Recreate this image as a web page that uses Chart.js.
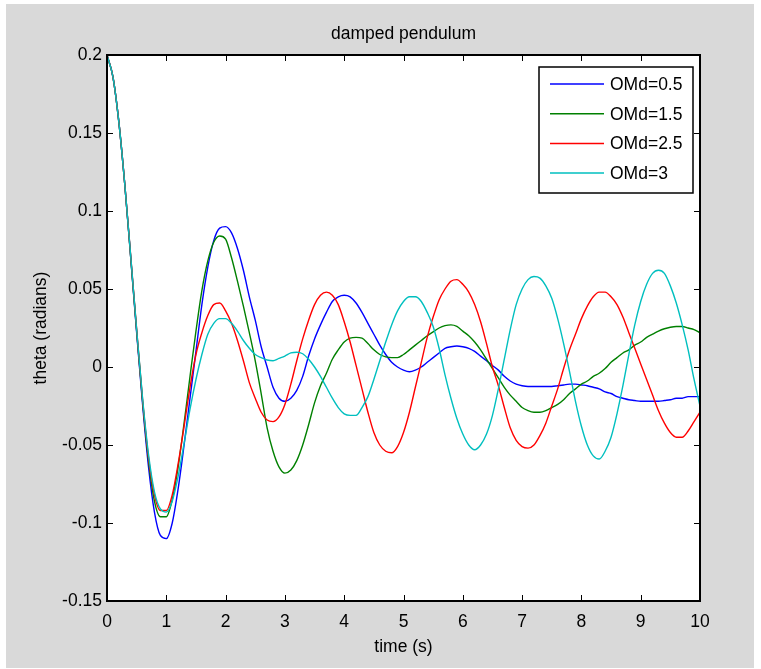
<!DOCTYPE html>
<html>
<head>
<meta charset="utf-8">
<title>damped pendulum</title>
<script src="https://cdn.jsdelivr.net/npm/chart.js@4.4.1/dist/chart.umd.min.js"></script>
<style>
  html, body { margin: 0; padding: 0; background: #fff; }
</style>
</head>
<body>
<canvas id="pendulum" width="761" height="669"></canvas>
<script>
// time axis (s)
const time = [
  0, 0.1, 0.2, 0.3, 0.4, 0.5, 0.6, 0.7, 0.8, 0.9, 1,
  1.1, 1.2, 1.3, 1.4, 1.5, 1.6, 1.7, 1.8, 1.9, 2,
  2.1, 2.2, 2.3, 2.4, 2.5, 2.6, 2.7, 2.8, 2.9, 3,
  3.1, 3.2, 3.3, 3.4, 3.5, 3.6, 3.7, 3.8, 3.9, 4,
  4.1, 4.2, 4.3, 4.4, 4.5, 4.6, 4.7, 4.8, 4.9, 5,
  5.1, 5.2, 5.3, 5.4, 5.5, 5.6, 5.7, 5.8, 5.9, 6,
  6.1, 6.2, 6.3, 6.4, 6.5, 6.6, 6.7, 6.8, 6.9, 7,
  7.1, 7.2, 7.3, 7.4, 7.5, 7.6, 7.7, 7.8, 7.9, 8,
  8.1, 8.2, 8.3, 8.4, 8.5, 8.6, 8.7, 8.8, 8.9, 9,
  9.1, 9.2, 9.3, 9.4, 9.5, 9.6, 9.7, 9.8, 9.9, 10
];

// theta (radians)
const omd05 = [
  0.2, 0.186, 0.157, 0.117, 0.070, 0.022, -0.024, -0.064, -0.093, -0.108, -0.110,
  -0.100, -0.078, -0.050, -0.020, 0.010, 0.040, 0.064, 0.081, 0.089, 0.090,
  0.086, 0.076, 0.062, 0.045, 0.030, 0.013, 0.000, -0.013, -0.020, -0.022,
  -0.020, -0.015, -0.006, 0.007, 0.018, 0.027, 0.035, 0.042, 0.045, 0.046,
  0.045, 0.041, 0.035, 0.028, 0.021, 0.014, 0.008, 0.003, 0.000, -0.002,
  -0.003, -0.002, 0.000, 0.003, 0.006, 0.009, 0.012, 0.013, 0.0135, 0.013,
  0.012, 0.010, 0.007, 0.004, 0.001, -0.002, -0.006, -0.009, -0.011, -0.012,
  -0.0125, -0.0125, -0.0125, -0.0125, -0.0125, -0.012, -0.0115, -0.011, -0.011, -0.0115,
  -0.012, -0.013, -0.014, -0.016, -0.017, -0.019, -0.020, -0.021, -0.0215, -0.022,
  -0.022, -0.022, -0.022, -0.0215, -0.021, -0.020, -0.020, -0.019, -0.019, -0.019
];
const omd15 = [
  0.2, 0.186, 0.157, 0.117, 0.070, 0.023, -0.022, -0.060, -0.086, -0.096, -0.096,
  -0.085, -0.064, -0.036, -0.006, 0.023, 0.049, 0.068, 0.080, 0.084, 0.082,
  0.070, 0.055, 0.039, 0.022, 0.004, -0.017, -0.039, -0.054, -0.064, -0.068,
  -0.066, -0.060, -0.050, -0.037, -0.023, -0.012, -0.004, 0.005, 0.011, 0.016,
  0.0185, 0.019, 0.0185, 0.015, 0.011, 0.008, 0.0065, 0.006, 0.006, 0.008,
  0.011, 0.014, 0.017, 0.020, 0.0225, 0.025, 0.0265, 0.027, 0.026, 0.023,
  0.020, 0.016, 0.011, 0.005, -0.001, -0.007, -0.013, -0.018, -0.022, -0.026,
  -0.028, -0.029, -0.029, -0.028, -0.026, -0.024, -0.021, -0.017, -0.014, -0.011,
  -0.009, -0.006, -0.004, -0.001, 0.003, 0.006, 0.009, 0.011, 0.014, 0.016,
  0.019, 0.021, 0.023, 0.0245, 0.0255, 0.026, 0.026, 0.025, 0.024, 0.022
];
const omd25 = [
  0.2, 0.186, 0.157, 0.117, 0.071, 0.024, -0.021, -0.058, -0.082, -0.092, -0.092,
  -0.082, -0.062, -0.038, -0.013, 0.008, 0.022, 0.033, 0.040, 0.041, 0.036,
  0.028, 0.017, 0.004, -0.010, -0.020, -0.029, -0.034, -0.035, -0.032, -0.024,
  -0.011, 0.004, 0.018, 0.030, 0.040, 0.046, 0.048, 0.046, 0.040, 0.029,
  0.016, 0.001, -0.014, -0.029, -0.042, -0.050, -0.054, -0.055, -0.051, -0.042,
  -0.029, -0.013, 0.003, 0.019, 0.032, 0.043, 0.050, 0.055, 0.056, 0.053,
  0.048, 0.040, 0.029, 0.015, 0.000, -0.012, -0.026, -0.039, -0.047, -0.051,
  -0.052, -0.050, -0.044, -0.036, -0.025, -0.014, -0.001, 0.011, 0.021, 0.031,
  0.039, 0.045, 0.048, 0.048, 0.045, 0.040, 0.032, 0.022, 0.012, 0.002,
  -0.008, -0.018, -0.028, -0.036, -0.042, -0.045, -0.045, -0.041, -0.035, -0.029
];
const omd3 = [
  0.2, 0.186, 0.157, 0.117, 0.071, 0.024, -0.020, -0.056, -0.080, -0.091, -0.093,
  -0.086, -0.070, -0.049, -0.027, -0.008, 0.008, 0.021, 0.028, 0.031, 0.031,
  0.028, 0.023, 0.017, 0.012, 0.008, 0.006, 0.0045, 0.004, 0.0055, 0.007,
  0.009, 0.0095, 0.0085, 0.005, 0.000, -0.006, -0.013, -0.020, -0.026, -0.030,
  -0.031, -0.031, -0.026, -0.019, -0.008, 0.004, 0.016, 0.027, 0.036, 0.042,
  0.045, 0.045, 0.042, 0.035, 0.026, 0.012, -0.005, -0.020, -0.033, -0.043,
  -0.050, -0.053, -0.050, -0.043, -0.031, -0.014, 0.005, 0.024, 0.040, 0.050,
  0.056, 0.058, 0.057, 0.052, 0.044, 0.031, 0.015, -0.003, -0.022, -0.038,
  -0.050, -0.057, -0.059, -0.054, -0.045, -0.030, -0.012, 0.008, 0.027, 0.042,
  0.053, 0.060, 0.062, 0.060, 0.052, 0.041, 0.027, 0.011, -0.008, -0.025
];

const seriesNames = ['OMd=0.5', 'OMd=1.5', 'OMd=2.5', 'OMd=3'];
const seriesColors = ['#0000ff', '#008000', '#ff0000', '#00bfbf'];
const xTicks = [0, 1, 2, 3, 4, 5, 6, 7, 8, 9, 10];
const yTicks = [-0.15, -0.1, -0.05, 0, 0.05, 0.1, 0.15, 0.2];
const yTickLabels = ['-0.15', '-0.1', '-0.05', '0', '0.05', '0.1', '0.15', '0.2'];

const FONT = "'Liberation Sans', Arial, Helvetica, sans-serif";
Chart.defaults.font.family = FONT;
Chart.defaults.font.size = 17.5;
Chart.defaults.color = '#000';

function pts(vals) {
  return time.map((t, i) => ({ x: t, y: vals[i] }));
}

const allSeries = [omd05, omd15, omd25, omd3];

// matlab style: gray figure, boxed axes, inward ticks, legend box
const matlabLook = {
  id: 'matlabLook',
  beforeDraw(chart) {
    const { ctx, chartArea: a } = chart;
    ctx.save();
    ctx.fillStyle = '#fff';
    ctx.fillRect(0, 0, chart.width, chart.height);
    ctx.fillStyle = '#d9d9d9';
    ctx.fillRect(6, 4, 748, 664);
    ctx.fillStyle = '#fff';
    ctx.fillRect(a.left, a.top, a.right - a.left, a.bottom - a.top);
    ctx.restore();
  },
  afterDatasetsDraw(chart) {
    const { ctx, chartArea: a, scales: { x, y } } = chart;
    ctx.save();
    ctx.strokeStyle = '#000';
    ctx.lineWidth = 1;
    ctx.beginPath();
    x.ticks.forEach(t => {
      const px = Math.round(x.getPixelForValue(t.value)) + 0.5;
      ctx.moveTo(px, a.bottom); ctx.lineTo(px, a.bottom - 6);
      ctx.moveTo(px, a.top); ctx.lineTo(px, a.top + 6);
    });
    y.ticks.forEach(t => {
      const py = Math.round(y.getPixelForValue(t.value)) + 0.5;
      ctx.moveTo(a.left, py); ctx.lineTo(a.left + 6, py);
      ctx.moveTo(a.right, py); ctx.lineTo(a.right - 6, py);
    });
    ctx.stroke();
    ctx.lineWidth = 2;
    ctx.strokeRect(a.left, a.top, a.right - a.left, a.bottom - a.top);

    // legend
    const bx = 539, by = 67, bw = 154, bh = 126;
    ctx.fillStyle = '#fff';
    ctx.fillRect(bx, by, bw, bh);
    ctx.lineWidth = 1.5;
    ctx.strokeRect(bx, by, bw, bh);
    ctx.font = '17.5px ' + FONT;
    ctx.textBaseline = 'middle';
    ctx.textAlign = 'left';
    chart.data.datasets.forEach((ds, i) => {
      const ry = by + 17 + i * 29.7;
      ctx.strokeStyle = ds.borderColor;
      ctx.lineWidth = 1.5;
      ctx.beginPath();
      ctx.moveTo(550, ry); ctx.lineTo(604, ry);
      ctx.stroke();
      ctx.fillStyle = '#000';
      ctx.fillText(ds.label, 610, ry + 1);
    });
    ctx.restore();
  }
};

new Chart(document.getElementById('pendulum'), {
  type: 'line',
  data: {
    datasets: allSeries.map((vals, i) => ({
      label: seriesNames[i],
      data: pts(vals),
      borderColor: seriesColors[i],
      borderWidth: 1.4,
      pointRadius: 0,
      fill: false,
      cubicInterpolationMode: 'monotone',
      order: allSeries.length - i
    }))
  },
  options: {
    responsive: false,
    animation: false,
    events: [],
    layout: { padding: { left: 0, right: 61, top: 0, bottom: 0 } },
    plugins: {
      legend: { display: false },
      tooltip: { enabled: false },
      title: {
        display: true,
        text: 'damped pendulum',
        fullSize: false,
        color: '#000',
        font: { size: 17.5, weight: 'normal' },
        padding: { top: 24, bottom: 10 }
      }
    },
    scales: {
      x: {
        type: 'linear',
        min: 0,
        max: 10,
        grid: { display: false, drawTicks: false },
        border: { display: false },
        afterBuildTicks: s => { s.ticks = xTicks.map(v => ({ value: v })); },
        ticks: { padding: 11, maxRotation: 0, color: '#000' },
        title: {
          display: true,
          text: 'time (s)',
          color: '#000',
          padding: { top: 0, bottom: 11.5 }
        },
        afterFit: s => { s.height = 68; }
      },
      y: {
        type: 'linear',
        min: -0.15,
        max: 0.2,
        grid: { display: false, drawTicks: false },
        border: { display: false },
        afterBuildTicks: s => { s.ticks = yTicks.map(v => ({ value: v })); },
        ticks: {
          padding: 5,
          color: '#000',
          callback: (v, i) => yTickLabels[i]
        },
        title: {
          display: true,
          text: 'theta (radians)',
          color: '#000',
          padding: { top: 30.5, bottom: 0 }
        },
        afterFit: s => { s.width = 107; }
      }
    }
  },
  plugins: [matlabLook]
});
</script>
</body>
</html>
